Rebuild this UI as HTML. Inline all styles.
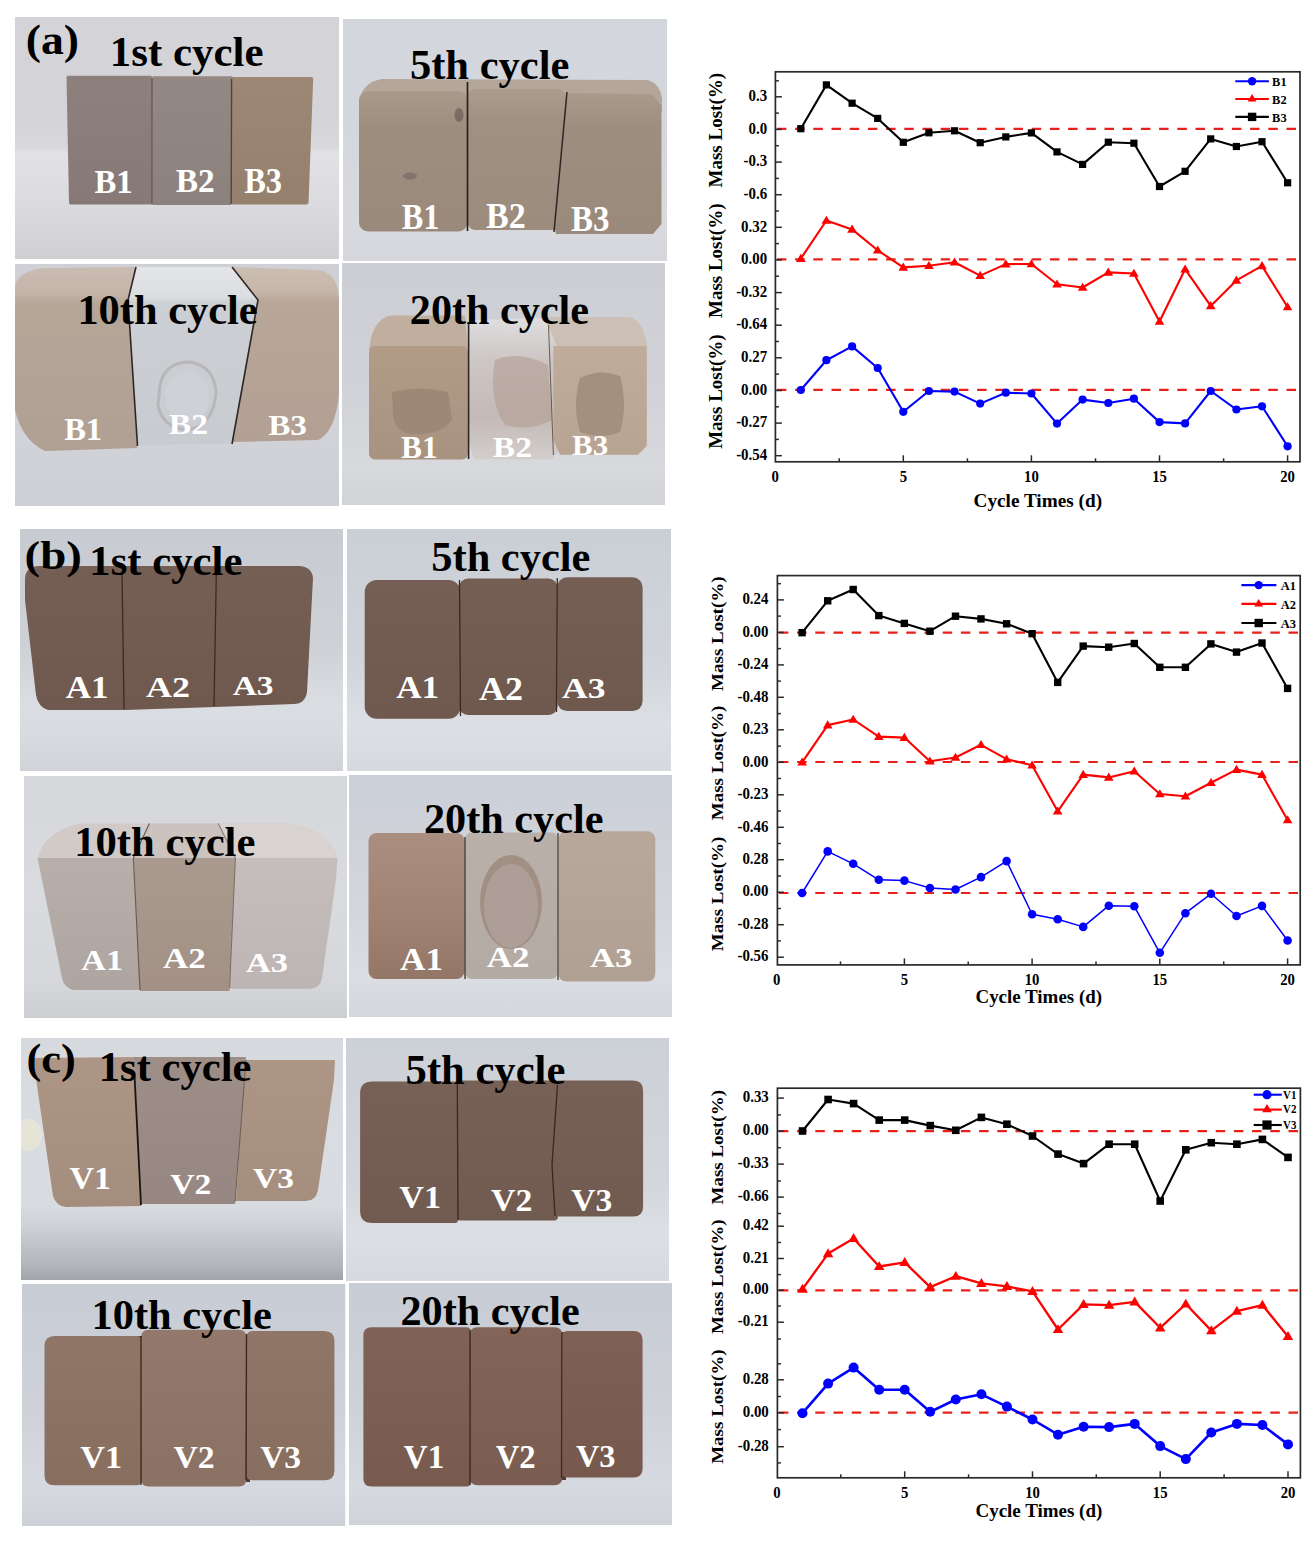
<!DOCTYPE html>
<html><head><meta charset="utf-8"><title>Figure</title>
<style>html,body{margin:0;padding:0;background:#fff;width:1314px;height:1544px;overflow:hidden}svg{display:block}</style></head>
<body><svg width="1314" height="1544" viewBox="0 0 1314 1544"><defs><linearGradient id="g1" x1="0" y1="0" x2="0" y2="1"><stop offset="0" stop-color="#d4d4d8"/><stop offset="0.4" stop-color="#d4d4d8"/><stop offset="0.54" stop-color="#d8d8dc"/><stop offset="0.56" stop-color="#e2e2e6"/><stop offset="0.75" stop-color="#dcdce0"/><stop offset="1" stop-color="#d0d0d4"/></linearGradient><linearGradient id="g2" x1="0" y1="0" x2="0" y2="1"><stop offset="0" stop-color="#8e807c"/><stop offset="1" stop-color="#877975"/></linearGradient><linearGradient id="g3" x1="0" y1="0" x2="0" y2="1"><stop offset="0" stop-color="#938883"/><stop offset="1" stop-color="#8c817c"/></linearGradient><linearGradient id="g4" x1="0" y1="0" x2="0" y2="1"><stop offset="0" stop-color="#9c8875"/><stop offset="1" stop-color="#94806d"/></linearGradient><clipPath id="c5"><rect x="15" y="17" width="324" height="242"/></clipPath><linearGradient id="g6" x1="0" y1="0" x2="0" y2="1"><stop offset="0" stop-color="#d3d6dd"/><stop offset="0.5" stop-color="#d4d7dd"/><stop offset="0.85" stop-color="#d8dadf"/><stop offset="1" stop-color="#d4d6db"/></linearGradient><linearGradient id="g7" x1="0" y1="0" x2="0" y2="1"><stop offset="0" stop-color="#aa9a8c"/><stop offset="0.25" stop-color="#9e8e80"/><stop offset="1" stop-color="#9a8a7c"/></linearGradient><linearGradient id="g8" x1="0" y1="0" x2="0" y2="1"><stop offset="0" stop-color="#ac9c8e"/><stop offset="0.25" stop-color="#a09082"/><stop offset="1" stop-color="#9c8c7e"/></linearGradient><linearGradient id="g9" x1="0" y1="0" x2="0" y2="1"><stop offset="0" stop-color="#aa9a8c"/><stop offset="0.25" stop-color="#9e8e80"/><stop offset="1" stop-color="#9a8a7c"/></linearGradient><clipPath id="c10"><rect x="343" y="19" width="324" height="242"/></clipPath><linearGradient id="g11" x1="0" y1="0" x2="0" y2="1"><stop offset="0" stop-color="#cfd0d5"/><stop offset="0.7" stop-color="#d2d3d8"/><stop offset="1" stop-color="#cecfd4"/></linearGradient><linearGradient id="g12" x1="0" y1="0" x2="0" y2="1"><stop offset="0" stop-color="#cabcb2"/><stop offset="0.14" stop-color="#c4b4aa"/><stop offset="0.2" stop-color="#b6a698"/><stop offset="1" stop-color="#b0a094"/></linearGradient><linearGradient id="g13" x1="0" y1="0" x2="0" y2="1"><stop offset="0" stop-color="#e4e5e8"/><stop offset="0.17" stop-color="#dcdde0"/><stop offset="0.2" stop-color="#cccfd4"/><stop offset="1" stop-color="#c8cbd0"/></linearGradient><linearGradient id="g14" x1="0" y1="0" x2="0" y2="1"><stop offset="0" stop-color="#ccbeb2"/><stop offset="0.14" stop-color="#c6b6aa"/><stop offset="0.2" stop-color="#b8a698"/><stop offset="1" stop-color="#b2a094"/></linearGradient><clipPath id="c15"><rect x="15" y="264" width="324" height="242"/></clipPath><linearGradient id="g16" x1="0" y1="0" x2="0" y2="1"><stop offset="0" stop-color="#cdced3"/><stop offset="0.5" stop-color="#d1d2d7"/><stop offset="0.85" stop-color="#d8d9dd"/><stop offset="1" stop-color="#d2d3d7"/></linearGradient><linearGradient id="g17" x1="0" y1="0" x2="0" y2="1"><stop offset="0" stop-color="#b29c88"/><stop offset="1" stop-color="#a89280"/></linearGradient><linearGradient id="g18" x1="0" y1="0" x2="0" y2="1"><stop offset="0" stop-color="#e0dee0"/><stop offset="0.3" stop-color="#ccc6c4"/><stop offset="0.7" stop-color="#c4bab6"/><stop offset="1" stop-color="#d2cecc"/></linearGradient><linearGradient id="g19" x1="0" y1="0" x2="0" y2="1"><stop offset="0" stop-color="#c0ac9a"/><stop offset="1" stop-color="#b8a492"/></linearGradient><clipPath id="c20"><rect x="342" y="263" width="323" height="242"/></clipPath><linearGradient id="g21" x1="0" y1="0" x2="0" y2="1"><stop offset="0" stop-color="#c8cbd1"/><stop offset="0.5" stop-color="#ced1d6"/><stop offset="0.72" stop-color="#dadde1"/><stop offset="0.85" stop-color="#d8dbdf"/><stop offset="1" stop-color="#d0d3d8"/></linearGradient><linearGradient id="g22" x1="0" y1="0" x2="0" y2="1"><stop offset="0" stop-color="#755e53"/><stop offset="1" stop-color="#6f584d"/></linearGradient><clipPath id="c23"><rect x="20" y="529" width="323" height="242"/></clipPath><linearGradient id="g24" x1="0" y1="0" x2="0" y2="1"><stop offset="0" stop-color="#cacfd6"/><stop offset="0.55" stop-color="#d1d5db"/><stop offset="0.8" stop-color="#dcdfe3"/><stop offset="1" stop-color="#d6d9dd"/></linearGradient><linearGradient id="g25" x1="0" y1="0" x2="0" y2="1"><stop offset="0" stop-color="#755e53"/><stop offset="1" stop-color="#6f584d"/></linearGradient><linearGradient id="g26" x1="0" y1="0" x2="0" y2="1"><stop offset="0" stop-color="#755e53"/><stop offset="1" stop-color="#6f584d"/></linearGradient><linearGradient id="g27" x1="0" y1="0" x2="0" y2="1"><stop offset="0" stop-color="#755e53"/><stop offset="1" stop-color="#6f584d"/></linearGradient><clipPath id="c28"><rect x="347" y="529" width="324" height="242"/></clipPath><linearGradient id="g29" x1="0" y1="0" x2="0" y2="1"><stop offset="0" stop-color="#d6d7db"/><stop offset="0.5" stop-color="#dadbdf"/><stop offset="0.85" stop-color="#d6d7db"/><stop offset="1" stop-color="#cdced2"/></linearGradient><linearGradient id="g30" x1="0" y1="0" x2="0" y2="1"><stop offset="0" stop-color="#b8aeaa"/><stop offset="1" stop-color="#aea4a0"/></linearGradient><linearGradient id="g31" x1="0" y1="0" x2="0" y2="1"><stop offset="0" stop-color="#aa998e"/><stop offset="1" stop-color="#a29184"/></linearGradient><linearGradient id="g32" x1="0" y1="0" x2="0" y2="1"><stop offset="0" stop-color="#c6bebd"/><stop offset="1" stop-color="#bdb5b3"/></linearGradient><clipPath id="c33"><rect x="24" y="776" width="323" height="242"/></clipPath><linearGradient id="g34" x1="0" y1="0" x2="0" y2="1"><stop offset="0" stop-color="#cbcfd7"/><stop offset="0.5" stop-color="#d2d5db"/><stop offset="0.85" stop-color="#dadde1"/><stop offset="1" stop-color="#d3d6db"/></linearGradient><linearGradient id="g35" x1="0" y1="0" x2="0" y2="1"><stop offset="0" stop-color="#aa8e80"/><stop offset="0.6" stop-color="#a08272"/><stop offset="1" stop-color="#947666"/></linearGradient><linearGradient id="g36" x1="0" y1="0" x2="0" y2="1"><stop offset="0" stop-color="#bab0aa"/><stop offset="1" stop-color="#b4aaa4"/></linearGradient><linearGradient id="g37" x1="0" y1="0" x2="0" y2="1"><stop offset="0" stop-color="#b8a89c"/><stop offset="1" stop-color="#b0a094"/></linearGradient><clipPath id="c38"><rect x="349" y="775" width="323" height="242"/></clipPath><linearGradient id="g39" x1="0" y1="0" x2="0" y2="1"><stop offset="0" stop-color="#d6d9de"/><stop offset="0.4" stop-color="#d9dce1"/><stop offset="0.69" stop-color="#d8dbe0"/><stop offset="0.77" stop-color="#d0d3d8"/><stop offset="0.855" stop-color="#c0c3c8"/><stop offset="0.94" stop-color="#b2b5ba"/><stop offset="1" stop-color="#a0a3a8"/></linearGradient><linearGradient id="g40" x1="0" y1="0" x2="0" y2="1"><stop offset="0" stop-color="#ad9686"/><stop offset="1" stop-color="#a58d7d"/></linearGradient><linearGradient id="g41" x1="0" y1="0" x2="0" y2="1"><stop offset="0" stop-color="#9e8e88"/><stop offset="1" stop-color="#978782"/></linearGradient><linearGradient id="g42" x1="0" y1="0" x2="0" y2="1"><stop offset="0" stop-color="#ae9686"/><stop offset="1" stop-color="#a68e7e"/></linearGradient><clipPath id="c43"><rect x="21" y="1038" width="322" height="242"/></clipPath><linearGradient id="g44" x1="0" y1="0" x2="0" y2="1"><stop offset="0" stop-color="#ccd0d7"/><stop offset="0.6" stop-color="#d3d6dc"/><stop offset="0.8" stop-color="#dcdfe3"/><stop offset="1" stop-color="#d6d9de"/></linearGradient><linearGradient id="g45" x1="0" y1="0" x2="0" y2="1"><stop offset="0" stop-color="#776055"/><stop offset="1" stop-color="#715a4f"/></linearGradient><linearGradient id="g46" x1="0" y1="0" x2="0" y2="1"><stop offset="0" stop-color="#776055"/><stop offset="1" stop-color="#715a4f"/></linearGradient><linearGradient id="g47" x1="0" y1="0" x2="0" y2="1"><stop offset="0" stop-color="#776055"/><stop offset="1" stop-color="#715a4f"/></linearGradient><clipPath id="c48"><rect x="346" y="1038" width="323" height="243"/></clipPath><linearGradient id="g49" x1="0" y1="0" x2="0" y2="1"><stop offset="0" stop-color="#c8ccd4"/><stop offset="0.5" stop-color="#ced1d8"/><stop offset="0.85" stop-color="#d6d9df"/><stop offset="1" stop-color="#cdd0d6"/></linearGradient><linearGradient id="g50" x1="0" y1="0" x2="0" y2="1"><stop offset="0" stop-color="#907667"/><stop offset="1" stop-color="#886e5f"/></linearGradient><linearGradient id="g51" x1="0" y1="0" x2="0" y2="1"><stop offset="0" stop-color="#92796b"/><stop offset="1" stop-color="#8a7163"/></linearGradient><linearGradient id="g52" x1="0" y1="0" x2="0" y2="1"><stop offset="0" stop-color="#907667"/><stop offset="1" stop-color="#886e5f"/></linearGradient><clipPath id="c53"><rect x="22" y="1284" width="323.5" height="242"/></clipPath><linearGradient id="g54" x1="0" y1="0" x2="0" y2="1"><stop offset="0" stop-color="#c8ccd4"/><stop offset="0.5" stop-color="#ced1d8"/><stop offset="0.85" stop-color="#d6d9df"/><stop offset="1" stop-color="#cfd2d8"/></linearGradient><linearGradient id="g55" x1="0" y1="0" x2="0" y2="1"><stop offset="0" stop-color="#806356"/><stop offset="1" stop-color="#785b4e"/></linearGradient><linearGradient id="g56" x1="0" y1="0" x2="0" y2="1"><stop offset="0" stop-color="#826558"/><stop offset="1" stop-color="#7a5d50"/></linearGradient><linearGradient id="g57" x1="0" y1="0" x2="0" y2="1"><stop offset="0" stop-color="#7e6154"/><stop offset="1" stop-color="#76594c"/></linearGradient><clipPath id="c58"><rect x="349" y="1283" width="323" height="242"/></clipPath></defs>
<g font-family="Liberation Serif" font-weight="bold"><g clip-path="url(#c5)">
<rect x="15.0" y="17.0" width="324.0" height="242.0" rx="0" fill="url(#g1)" />
<path d="M66.5,77.0 L67.5,75.7 L151.8,75.7 L151.8,204.4 L70.0,204.4 L69.0,203.0 Z" fill="url(#g2)" />
<path d="M152.3,76.2 L232.2,76.2 L231.0,204.9 L152.3,204.9 Z" fill="url(#g3)" />
<path d="M231.5,76.9 L312.0,76.9 L313.2,78.5 L308.5,203.0 L307.0,204.4 L231.5,204.4 Z" fill="url(#g4)" />
<line x1="152" y1="78" x2="152" y2="204" stroke="#5a4e4a" stroke-width="1.3" />
<line x1="231.6" y1="79" x2="231.2" y2="204" stroke="#4e423c" stroke-width="1.4" />
</g>
<text transform="translate(25.77,54.14) scale(0.4574,0.4122)" font-size="100" fill="#000000" >(a)</text>
<text transform="translate(109.77,66.40) scale(0.4293,0.4189)" font-size="100" fill="#000000" >1st cycle</text>
<text transform="translate(94.45,192.60) scale(0.3273,0.3424)" font-size="100" fill="#ffffff" >B1</text>
<text transform="translate(175.63,192.26) scale(0.3345,0.3424)" font-size="100" fill="#ffffff" >B2</text>
<text transform="translate(244.25,192.80) scale(0.3243,0.3507)" font-size="100" fill="#ffffff" >B3</text>
<g clip-path="url(#c10)">
<rect x="343.0" y="19.0" width="324.0" height="242.0" rx="0" fill="url(#g6)" />
<path d="M360,98 Q364,82 382,79 L648,80 Q660,84 662,98 L662,112 L360,112 Z" fill="#b4a699" />
<rect x="359.0" y="91.0" width="108.5" height="140.5" rx="9" fill="url(#g7)" />
<rect x="467.5" y="89.0" width="98.5" height="141.0" rx="8" fill="url(#g8)" />
<path d="M566.0,93.0 L652.0,94.0 L661.5,106.0 L661.5,224.0 L653.0,234.0 L556.0,234.0 L553.0,218.0 L559.0,150.0 Z" fill="url(#g9)" />
<line x1="467.5" y1="82" x2="467.5" y2="231" stroke="#2a2220" stroke-width="1.7" />
<line x1="567" y1="92" x2="554" y2="232" stroke="#2e2622" stroke-width="1.5" />
<ellipse cx="459" cy="115" rx="4.5" ry="7" fill="#4a4040"  opacity="0.45"/>
<ellipse cx="410" cy="176" rx="7" ry="3.5" fill="#5a5050"  opacity="0.4"/>
</g>
<text transform="translate(409.90,79.20) scale(0.4255,0.4189)" font-size="100" fill="#000000" >5th cycle</text>
<text transform="translate(401.75,228.80) scale(0.3227,0.3606)" font-size="100" fill="#ffffff" >B1</text>
<text transform="translate(486.12,228.44) scale(0.3400,0.3606)" font-size="100" fill="#ffffff" >B2</text>
<text transform="translate(571.04,230.79) scale(0.3297,0.3537)" font-size="100" fill="#ffffff" >B3</text>
<g clip-path="url(#c15)">
<rect x="15.0" y="264.0" width="324.0" height="242.0" rx="0" fill="url(#g11)" />
<path d="M15,285 Q20,270 45,268 L136,267 L128,300 L137,448 L45,451 Q22,440 15,410 Z" fill="url(#g12)" />
<path d="M136.0,267.0 L232.0,267.0 L258.0,300.0 L232.0,444.0 L137.5,445.0 L128.0,300.0 Z" fill="url(#g13)" />
<path d="M160,385 Q165,362 190,362 Q214,366 216,392 Q214,425 188,430 Q162,428 158,405 Z" fill="none"  stroke="#ada4a2" stroke-width="3" opacity="0.55"/>
<ellipse cx="187" cy="397" rx="22" ry="26" fill="#d2d4d8"  opacity="0.6"/>
<path d="M232,267 L320,270 Q339,275 339,300 L339,395 Q335,432 318,440 L232,442 L258,300 Z" fill="url(#g14)" />
<path d="M136,267 L128,300 L137.5,446" fill="none"  stroke="#2e2624" stroke-width="1.6"/>
<path d="M232,267 L258,300 L232,444" fill="none"  stroke="#2e2624" stroke-width="1.6"/>
</g>
<text transform="translate(77.40,324.46) scale(0.4244,0.4256)" font-size="100" fill="#000000" >10th cycle</text>
<text transform="translate(64.15,439.80) scale(0.3255,0.3091)" font-size="100" fill="#ffffff" >B1</text>
<text transform="translate(168.73,434.41) scale(0.3364,0.2894)" font-size="100" fill="#ffffff" >B2</text>
<text transform="translate(268.13,435.39) scale(0.3333,0.3045)" font-size="100" fill="#ffffff" >B3</text>
<g clip-path="url(#c20)">
<rect x="342.0" y="263.0" width="323.0" height="242.0" rx="0" fill="url(#g16)" />
<path d="M369,350 Q372,318 392,315.5 L465,315.5 L468,349 Z" fill="#c0ae9e" />
<rect x="369.0" y="346.0" width="99.0" height="113.6" rx="6" fill="url(#g17)" />
<path d="M392,392 Q420,385 448,392 L452,420 Q440,436 410,434 Q392,430 393,410 Z" fill="#9c8874" />
<path d="M470.0,320.0 L544.0,318.0 L560.0,345.0 L559.5,450.0 L552.0,459.6 L474.0,459.6 L468.6,440.0 Z" fill="url(#g18)" />
<path d="M495,360 Q520,350 548,365 L552,420 Q530,432 505,425 Q488,400 495,360 Z" fill="#b29c92"  opacity="0.6"/>
<path d="M544,317 L630,317 Q644,322 646.8,346 L557,346 Z" fill="#ccc0b6" />
<path d="M553.4,346 L646.8,346 L646.8,446 L638,454.7 L560,454.7 L553.4,440 Z" fill="url(#g19)" />
<path d="M580,378 Q600,368 620,376 Q628,405 620,432 Q600,440 580,432 Q572,405 580,378 Z" fill="#a3907f" />
<line x1="468.6" y1="322" x2="468.6" y2="459" stroke="#2e2624" stroke-width="1.6" />
<line x1="548.5" y1="325" x2="553.4" y2="455" stroke="#6a5a50" stroke-width="1.0" />
</g>
<text transform="translate(409.81,324.46) scale(0.4220,0.4256)" font-size="100" fill="#000000" >20th cycle</text>
<text transform="translate(401.07,458.20) scale(0.3136,0.3091)" font-size="100" fill="#ffffff" >B1</text>
<text transform="translate(492.83,456.61) scale(0.3364,0.2894)" font-size="100" fill="#ffffff" >B2</text>
<text transform="translate(571.98,455.03) scale(0.3099,0.2851)" font-size="100" fill="#ffffff" >B3</text>
<g clip-path="url(#c23)">
<rect x="20.0" y="529.0" width="323.0" height="242.0" rx="0" fill="url(#g21)" />
<path d="M25,578 Q26,566 40,566 L300,566 Q312,567 313,578 L307,692 Q305,704 294,704 L215,707 L125,710 L48,710 Q38,707 36,695 L25,600 Z" fill="url(#g22)" />
<line x1="122" y1="571" x2="124" y2="709" stroke="#3c2a22" stroke-width="1.3" />
<line x1="216.4" y1="568" x2="214" y2="706" stroke="#3c2a22" stroke-width="1.3" />
</g>
<text transform="translate(24.62,568.67) scale(0.4693,0.4111)" font-size="100" fill="#000000" >(b)</text>
<text transform="translate(89.28,575.27) scale(0.4276,0.4156)" font-size="100" fill="#000000" >1st cycle</text>
<text transform="translate(65.65,698.40) scale(0.3517,0.3091)" font-size="100" fill="#ffffff" >A1</text>
<text transform="translate(145.94,696.81) scale(0.3598,0.2851)" font-size="100" fill="#ffffff" >A2</text>
<text transform="translate(232.67,695.24) scale(0.3347,0.2809)" font-size="100" fill="#ffffff" >A3</text>
<g clip-path="url(#c28)">
<rect x="347.0" y="529.0" width="324.0" height="242.0" rx="0" fill="url(#g24)" />
<rect x="364.7" y="580.0" width="95.8" height="138.8" rx="12" fill="url(#g25)" />
<rect x="459.0" y="578.5" width="98.5" height="136.5" rx="9" fill="url(#g26)" />
<rect x="557.2" y="577.3" width="85.4" height="133.8" rx="10" fill="url(#g27)" />
<line x1="459.5" y1="580" x2="460.5" y2="716" stroke="#3a281f" stroke-width="1.3" />
<line x1="557.3" y1="578" x2="556.5" y2="712" stroke="#3a281f" stroke-width="1.3" />
</g>
<text transform="translate(431.30,570.56) scale(0.4245,0.4256)" font-size="100" fill="#000000" >5th cycle</text>
<text transform="translate(396.15,698.40) scale(0.3517,0.3091)" font-size="100" fill="#ffffff" >A1</text>
<text transform="translate(479.04,700.07) scale(0.3598,0.3343)" font-size="100" fill="#ffffff" >A2</text>
<text transform="translate(561.94,697.80) scale(0.3559,0.3000)" font-size="100" fill="#ffffff" >A3</text>
<g clip-path="url(#c33)">
<rect x="24.0" y="776.0" width="323.0" height="242.0" rx="0" fill="url(#g29)" />
<path d="M80.5,823.4 L289.5,823.4 Q330,830 337.4,858 L37.5,858 Q45,830 80.5,823.4 Z" fill="#d2cac7" />
<path d="M149.4,823.4 L218.2,823.4 L235.4,858 L133.4,858 Z" fill="#cdc3be" />
<path d="M218.2,823.4 L289.5,823.4 Q330,830 337.4,858 L235.4,858 Z" fill="#d8d2d1" />
<path d="M37.5,858 L134,858 L140,990 L74,990 Q64,988 62,978 Z" fill="url(#g30)" />
<path d="M134,858 L235.4,858 L229.6,991 L140,991 Z" fill="url(#g31)" />
<path d="M235.4,858 L337.4,858 L336,880 L322,978 Q320,988.7 310,988.7 L229.6,988.7 Z" fill="url(#g32)" />
<path d="M149.4,823.4 L133.4,858 L140,990" fill="none"  stroke="#6a5c56" stroke-width="1.2"/>
<path d="M218.2,823.4 L235.4,858 L229.6,988" fill="none"  stroke="#7a6c66" stroke-width="1.0"/>
</g>
<text transform="translate(74.19,856.01) scale(0.4266,0.4233)" font-size="100" fill="#000000" >10th cycle</text>
<text transform="translate(81.36,969.60) scale(0.3414,0.2894)" font-size="100" fill="#ffffff" >A1</text>
<text transform="translate(162.95,968.00) scale(0.3487,0.3030)" font-size="100" fill="#ffffff" >A2</text>
<text transform="translate(245.85,971.64) scale(0.3458,0.2824)" font-size="100" fill="#ffffff" >A3</text>
<g clip-path="url(#c38)">
<rect x="349.0" y="775.0" width="323.0" height="242.0" rx="0" fill="url(#g34)" />
<rect x="368.5" y="833.0" width="96.0" height="146.0" rx="8" fill="url(#g35)" />
<rect x="465.4" y="832.5" width="92.1" height="146.5" rx="6" fill="url(#g36)" />
<ellipse cx="511" cy="902" rx="31" ry="47" fill="#a28f84" />
<ellipse cx="511" cy="906" rx="27" ry="42" fill="#ad9f97" />
<rect x="558.5" y="831.2" width="96.8" height="150.4" rx="8" fill="url(#g37)" />
<line x1="465" y1="837" x2="465" y2="979" stroke="#3a2c26" stroke-width="1.3" />
<line x1="558" y1="833" x2="558" y2="980" stroke="#4a3c36" stroke-width="1.3" />
</g>
<text transform="translate(424.01,832.70) scale(0.4222,0.4144)" font-size="100" fill="#000000" >20th cycle</text>
<text transform="translate(400.05,970.20) scale(0.3517,0.3091)" font-size="100" fill="#ffffff" >A1</text>
<text transform="translate(486.65,967.30) scale(0.3496,0.3045)" font-size="100" fill="#ffffff" >A2</text>
<text transform="translate(589.95,967.04) scale(0.3458,0.2809)" font-size="100" fill="#ffffff" >A3</text>
<g clip-path="url(#c43)">
<rect x="21.0" y="1038.0" width="322.0" height="242.0" rx="0" fill="url(#g39)" />
<ellipse cx="28" cy="1135" rx="14" ry="16" fill="#e6e4d6" />
<path d="M33,1058 L138,1057 L141,1206 L66,1207 Q56,1206 53,1196 Z" fill="url(#g40)" />
<path d="M134.0,1057.0 L246.0,1057.0 L235.0,1204.0 L141.0,1204.0 Z" fill="url(#g41)" />
<path d="M245,1060 L335,1060 L334,1080 L318,1190 Q316,1201 306,1201 L236,1201 Z" fill="url(#g42)" />
<line x1="134.5" y1="1075" x2="141" y2="1205" stroke="#1c1410" stroke-width="1.8" />
<line x1="246" y1="1060" x2="235" y2="1202" stroke="#6a5a52" stroke-width="1.0" />
</g>
<text transform="translate(26.43,1073.27) scale(0.4437,0.4156)" font-size="100" fill="#000000" >(c)</text>
<text transform="translate(98.79,1081.26) scale(0.4261,0.4256)" font-size="100" fill="#000000" >1st cycle</text>
<text transform="translate(69.46,1189.16) scale(0.3405,0.3191)" font-size="100" fill="#ffffff" >V1</text>
<text transform="translate(170.16,1194.29) scale(0.3376,0.3045)" font-size="100" fill="#ffffff" >V2</text>
<text transform="translate(253.07,1187.89) scale(0.3347,0.3045)" font-size="100" fill="#ffffff" >V3</text>
<g clip-path="url(#c48)">
<rect x="346.0" y="1038.0" width="323.0" height="243.0" rx="0" fill="url(#g44)" />
<path d="M372.1,1081.5 L455.0,1081.5 Q458.0,1081.5 458.0,1084.5 L458.0,1220.0 Q458.0,1223.0 455.0,1223.0 L372.1,1223.0 Q360.1,1223.0 360.1,1211.0 L360.1,1093.5 Q360.1,1081.5 372.1,1081.5 Z" fill="url(#g45)" />
<path d="M460.0,1080.5 L555.0,1080.5 Q558.0,1080.5 558.0,1083.5 L558.0,1216.4 Q558.0,1220.4 554.0,1220.4 L460.0,1220.4 Q457.0,1220.4 457.0,1217.4 L457.0,1083.5 Q457.0,1080.5 460.0,1080.5 Z" fill="url(#g46)" />
<path d="M558.2,1080.5 L633.1,1080.5 Q643.1,1080.5 643.1,1090.5 L643.1,1206.6 Q643.1,1216.6 633.1,1216.6 L558.2,1216.6 Q555.2,1216.6 555.2,1213.6 L555.2,1083.5 Q555.2,1080.5 558.2,1080.5 Z" fill="url(#g47)" />
<line x1="457.3" y1="1084" x2="458" y2="1220" stroke="#3a281f" stroke-width="1.3" />
<path d="M557.5,1085 L552,1165 L555,1216" fill="none"  stroke="#3a281f" stroke-width="1.3"/>
</g>
<text transform="translate(405.60,1084.17) scale(0.4261,0.4156)" font-size="100" fill="#000000" >5th cycle</text>
<text transform="translate(399.26,1208.36) scale(0.3414,0.3191)" font-size="100" fill="#ffffff" >V1</text>
<text transform="translate(491.06,1210.85) scale(0.3385,0.3239)" font-size="100" fill="#ffffff" >V2</text>
<text transform="translate(571.36,1210.85) scale(0.3356,0.3239)" font-size="100" fill="#ffffff" >V3</text>
<g clip-path="url(#c53)">
<rect x="22.0" y="1284.0" width="323.5" height="242.0" rx="0" fill="url(#g49)" />
<rect x="136.0" y="1336.0" width="114.0" height="146.0" rx="0" fill="#4a3a32" />
<path d="M54.5,1336.0 L137.0,1336.0 Q141.0,1336.0 141.0,1340.0 L141.0,1481.3 Q141.0,1485.3 137.0,1485.3 L54.5,1485.3 Q44.5,1485.3 44.5,1475.3 L44.5,1346.0 Q44.5,1336.0 54.5,1336.0 Z" fill="url(#g50)" />
<path d="M149.0,1329.7 L238.5,1329.7 Q246.5,1329.7 246.5,1337.7 L246.5,1478.5 Q246.5,1486.5 238.5,1486.5 L149.0,1486.5 Q141.0,1486.5 141.0,1478.5 L141.0,1337.7 Q141.0,1329.7 149.0,1329.7 Z" fill="url(#g51)" />
<path d="M252.5,1331.0 L324.4,1331.0 Q334.4,1331.0 334.4,1341.0 L334.4,1470.2 Q334.4,1480.2 324.4,1480.2 L252.5,1480.2 Q246.5,1480.2 246.5,1474.2 L246.5,1337.0 Q246.5,1331.0 252.5,1331.0 Z" fill="url(#g52)" />
<line x1="141" y1="1336" x2="141" y2="1485" stroke="#3a2a22" stroke-width="1.4" />
<line x1="246.5" y1="1334" x2="246" y2="1480" stroke="#3a2a22" stroke-width="1.4" />
</g>
<text transform="translate(91.40,1328.67) scale(0.4249,0.4156)" font-size="100" fill="#000000" >10th cycle</text>
<text transform="translate(80.36,1468.06) scale(0.3414,0.3191)" font-size="100" fill="#ffffff" >V1</text>
<text transform="translate(173.46,1468.05) scale(0.3376,0.3239)" font-size="100" fill="#ffffff" >V2</text>
<text transform="translate(260.17,1468.05) scale(0.3347,0.3239)" font-size="100" fill="#ffffff" >V3</text>
<g clip-path="url(#c58)">
<rect x="349.0" y="1283.0" width="323.0" height="242.0" rx="0" fill="url(#g54)" />
<rect x="465.0" y="1332.0" width="101.0" height="148.0" rx="0" fill="#4a3a32" />
<path d="M371.4,1327.2 L466.5,1327.2 Q470.5,1327.2 470.5,1331.2 L470.5,1482.5 Q470.5,1486.5 466.5,1486.5 L371.4,1486.5 Q363.4,1486.5 363.4,1478.5 L363.4,1335.2 Q363.4,1327.2 371.4,1327.2 Z" fill="url(#g55)" />
<path d="M477.7,1327.2 L554.3,1327.2 Q562.3,1327.2 562.3,1335.2 L562.3,1477.3 Q562.3,1485.3 554.3,1485.3 L477.7,1485.3 Q469.7,1485.3 469.7,1477.3 L469.7,1335.2 Q469.7,1327.2 477.7,1327.2 Z" fill="url(#g56)" />
<path d="M567.5,1331.0 L633.6,1331.0 Q642.6,1331.0 642.6,1340.0 L642.6,1468.6 Q642.6,1477.6 633.6,1477.6 L567.5,1477.6 Q561.5,1477.6 561.5,1471.6 L561.5,1337.0 Q561.5,1331.0 567.5,1331.0 Z" fill="url(#g57)" />
<line x1="470" y1="1330" x2="470" y2="1485" stroke="#3a281f" stroke-width="1.4" />
<line x1="561.8" y1="1333" x2="561.5" y2="1478" stroke="#3a281f" stroke-width="1.2" />
</g>
<text transform="translate(400.51,1325.33) scale(0.4220,0.4178)" font-size="100" fill="#000000" >20th cycle</text>
<text transform="translate(403.87,1468.02) scale(0.3293,0.3382)" font-size="100" fill="#ffffff" >V1</text>
<text transform="translate(495.67,1468.01) scale(0.3265,0.3433)" font-size="100" fill="#ffffff" >V2</text>
<text transform="translate(575.98,1466.75) scale(0.3237,0.3239)" font-size="100" fill="#ffffff" >V3</text></g>
<g font-family="Liberation Serif" font-weight="bold"><line x1="776.9" y1="128.8" x2="1299.2" y2="128.8" stroke="#e8201c" stroke-width="2.2" stroke-dasharray="9.5 8.7"/>
<line x1="776.9" y1="259.4" x2="1299.2" y2="259.4" stroke="#e8201c" stroke-width="2.2" stroke-dasharray="9.5 8.7"/>
<line x1="776.9" y1="389.9" x2="1299.2" y2="389.9" stroke="#e8201c" stroke-width="2.2" stroke-dasharray="9.5 8.7"/>
<polyline points="800.8,128.7 826.4,84.9 852.1,103.2 877.7,118.4 903.3,142.3 928.9,132.8 954.5,130.8 980.2,142.7 1005.8,136.9 1031.4,132.9 1057.0,151.9 1082.6,164.4 1108.3,142.2 1133.9,143.2 1159.5,186.5 1185.1,171.3 1210.7,138.9 1236.4,146.5 1262.0,141.7 1287.6,182.8" fill="none" stroke="#000000" stroke-width="2.1" stroke-linejoin="round"/>
<rect x="797.2" y="125.1" width="7.2" height="7.2" fill="#000000"/>
<rect x="822.8" y="81.3" width="7.2" height="7.2" fill="#000000"/>
<rect x="848.5" y="99.6" width="7.2" height="7.2" fill="#000000"/>
<rect x="874.1" y="114.8" width="7.2" height="7.2" fill="#000000"/>
<rect x="899.7" y="138.7" width="7.2" height="7.2" fill="#000000"/>
<rect x="925.3" y="129.2" width="7.2" height="7.2" fill="#000000"/>
<rect x="950.9" y="127.2" width="7.2" height="7.2" fill="#000000"/>
<rect x="976.6" y="139.1" width="7.2" height="7.2" fill="#000000"/>
<rect x="1002.2" y="133.3" width="7.2" height="7.2" fill="#000000"/>
<rect x="1027.8" y="129.3" width="7.2" height="7.2" fill="#000000"/>
<rect x="1053.4" y="148.3" width="7.2" height="7.2" fill="#000000"/>
<rect x="1079.0" y="160.8" width="7.2" height="7.2" fill="#000000"/>
<rect x="1104.7" y="138.6" width="7.2" height="7.2" fill="#000000"/>
<rect x="1130.3" y="139.6" width="7.2" height="7.2" fill="#000000"/>
<rect x="1155.9" y="182.9" width="7.2" height="7.2" fill="#000000"/>
<rect x="1181.5" y="167.7" width="7.2" height="7.2" fill="#000000"/>
<rect x="1207.1" y="135.3" width="7.2" height="7.2" fill="#000000"/>
<rect x="1232.8" y="142.9" width="7.2" height="7.2" fill="#000000"/>
<rect x="1258.4" y="138.1" width="7.2" height="7.2" fill="#000000"/>
<rect x="1284.0" y="179.2" width="7.2" height="7.2" fill="#000000"/>
<polyline points="800.8,258.6 826.4,220.5 852.1,229.4 877.7,250.3 903.3,267.4 928.9,265.8 954.5,262.3 980.2,275.6 1005.8,264.1 1031.4,264.0 1057.0,284.3 1082.6,287.5 1108.3,272.4 1133.9,273.5 1159.5,321.5 1185.1,269.2 1210.7,305.9 1236.4,280.4 1262.0,265.9 1287.6,307.0" fill="none" stroke="#ff0000" stroke-width="2.1" stroke-linejoin="round"/>
<path d="M800.8,253.8L805.7,261.9L796.0,261.9Z" fill="#ff0000"/>
<path d="M826.4,215.7L831.3,223.8L821.6,223.8Z" fill="#ff0000"/>
<path d="M852.1,224.6L856.9,232.7L847.2,232.7Z" fill="#ff0000"/>
<path d="M877.7,245.5L882.5,253.6L872.9,253.6Z" fill="#ff0000"/>
<path d="M903.3,262.6L908.1,270.7L898.5,270.7Z" fill="#ff0000"/>
<path d="M928.9,261.0L933.8,269.1L924.1,269.1Z" fill="#ff0000"/>
<path d="M954.5,257.5L959.4,265.6L949.7,265.6Z" fill="#ff0000"/>
<path d="M980.2,270.8L985.0,278.9L975.3,278.9Z" fill="#ff0000"/>
<path d="M1005.8,259.3L1010.6,267.4L1001.0,267.4Z" fill="#ff0000"/>
<path d="M1031.4,259.2L1036.2,267.3L1026.6,267.3Z" fill="#ff0000"/>
<path d="M1057.0,279.5L1061.8,287.6L1052.2,287.6Z" fill="#ff0000"/>
<path d="M1082.6,282.7L1087.5,290.8L1077.8,290.8Z" fill="#ff0000"/>
<path d="M1108.3,267.6L1113.1,275.7L1103.4,275.7Z" fill="#ff0000"/>
<path d="M1133.9,268.7L1138.7,276.8L1129.1,276.8Z" fill="#ff0000"/>
<path d="M1159.5,316.7L1164.3,324.8L1154.7,324.8Z" fill="#ff0000"/>
<path d="M1185.1,264.4L1190.0,272.5L1180.3,272.5Z" fill="#ff0000"/>
<path d="M1210.7,301.1L1215.6,309.2L1205.9,309.2Z" fill="#ff0000"/>
<path d="M1236.4,275.6L1241.2,283.7L1231.5,283.7Z" fill="#ff0000"/>
<path d="M1262.0,261.1L1266.8,269.2L1257.2,269.2Z" fill="#ff0000"/>
<path d="M1287.6,302.2L1292.4,310.3L1282.8,310.3Z" fill="#ff0000"/>
<polyline points="800.8,390.0 826.4,360.2 852.1,346.4 877.7,368.0 903.3,411.8 928.9,391.0 954.5,391.6 980.2,403.6 1005.8,392.7 1031.4,393.5 1057.0,423.6 1082.6,399.6 1108.3,403.0 1133.9,398.7 1159.5,422.1 1185.1,423.4 1210.7,391.0 1236.4,409.5 1262.0,406.3 1287.6,446.3" fill="none" stroke="#0000ff" stroke-width="2.1" stroke-linejoin="round"/>
<circle cx="800.8" cy="390.0" r="4.1" fill="#0000ff"/>
<circle cx="826.4" cy="360.2" r="4.1" fill="#0000ff"/>
<circle cx="852.1" cy="346.4" r="4.1" fill="#0000ff"/>
<circle cx="877.7" cy="368.0" r="4.1" fill="#0000ff"/>
<circle cx="903.3" cy="411.8" r="4.1" fill="#0000ff"/>
<circle cx="928.9" cy="391.0" r="4.1" fill="#0000ff"/>
<circle cx="954.5" cy="391.6" r="4.1" fill="#0000ff"/>
<circle cx="980.2" cy="403.6" r="4.1" fill="#0000ff"/>
<circle cx="1005.8" cy="392.7" r="4.1" fill="#0000ff"/>
<circle cx="1031.4" cy="393.5" r="4.1" fill="#0000ff"/>
<circle cx="1057.0" cy="423.6" r="4.1" fill="#0000ff"/>
<circle cx="1082.6" cy="399.6" r="4.1" fill="#0000ff"/>
<circle cx="1108.3" cy="403.0" r="4.1" fill="#0000ff"/>
<circle cx="1133.9" cy="398.7" r="4.1" fill="#0000ff"/>
<circle cx="1159.5" cy="422.1" r="4.1" fill="#0000ff"/>
<circle cx="1185.1" cy="423.4" r="4.1" fill="#0000ff"/>
<circle cx="1210.7" cy="391.0" r="4.1" fill="#0000ff"/>
<circle cx="1236.4" cy="409.5" r="4.1" fill="#0000ff"/>
<circle cx="1262.0" cy="406.3" r="4.1" fill="#0000ff"/>
<circle cx="1287.6" cy="446.3" r="4.1" fill="#0000ff"/>
<rect x="775.4" y="71.8" width="524.6" height="390.0" fill="none" stroke="#2a2a2a" stroke-width="1.7"/>
<line x1="775.4" y1="96.8" x2="781.9" y2="96.8" stroke="#2a2a2a" stroke-width="1.5"/>
<text x="0" y="0" transform="translate(767.2,101.0) scale(0.91,1)" font-size="16.4" text-anchor="end">0.3</text>
<line x1="775.4" y1="129.4" x2="781.9" y2="129.4" stroke="#2a2a2a" stroke-width="1.5"/>
<text x="0" y="0" transform="translate(767.2,133.6) scale(0.91,1)" font-size="16.4" text-anchor="end">0.0</text>
<line x1="775.4" y1="162.1" x2="781.9" y2="162.1" stroke="#2a2a2a" stroke-width="1.5"/>
<text x="0" y="0" transform="translate(767.2,166.3) scale(0.91,1)" font-size="16.4" text-anchor="end">-0.3</text>
<line x1="775.4" y1="194.7" x2="781.9" y2="194.7" stroke="#2a2a2a" stroke-width="1.5"/>
<text x="0" y="0" transform="translate(767.2,198.9) scale(0.91,1)" font-size="16.4" text-anchor="end">-0.6</text>
<line x1="775.4" y1="227.3" x2="781.9" y2="227.3" stroke="#2a2a2a" stroke-width="1.5"/>
<text x="0" y="0" transform="translate(767.2,231.5) scale(0.91,1)" font-size="16.4" text-anchor="end">0.32</text>
<line x1="775.4" y1="259.9" x2="781.9" y2="259.9" stroke="#2a2a2a" stroke-width="1.5"/>
<text x="0" y="0" transform="translate(767.2,264.1) scale(0.91,1)" font-size="16.4" text-anchor="end">0.00</text>
<line x1="775.4" y1="292.6" x2="781.9" y2="292.6" stroke="#2a2a2a" stroke-width="1.5"/>
<text x="0" y="0" transform="translate(767.2,296.8) scale(0.91,1)" font-size="16.4" text-anchor="end">-0.32</text>
<line x1="775.4" y1="325.2" x2="781.9" y2="325.2" stroke="#2a2a2a" stroke-width="1.5"/>
<text x="0" y="0" transform="translate(767.2,329.4) scale(0.91,1)" font-size="16.4" text-anchor="end">-0.64</text>
<line x1="775.4" y1="357.8" x2="781.9" y2="357.8" stroke="#2a2a2a" stroke-width="1.5"/>
<text x="0" y="0" transform="translate(767.2,362.0) scale(0.91,1)" font-size="16.4" text-anchor="end">0.27</text>
<line x1="775.4" y1="390.5" x2="781.9" y2="390.5" stroke="#2a2a2a" stroke-width="1.5"/>
<text x="0" y="0" transform="translate(767.2,394.7) scale(0.91,1)" font-size="16.4" text-anchor="end">0.00</text>
<line x1="775.4" y1="423.1" x2="781.9" y2="423.1" stroke="#2a2a2a" stroke-width="1.5"/>
<text x="0" y="0" transform="translate(767.2,427.3) scale(0.91,1)" font-size="16.4" text-anchor="end">-0.27</text>
<line x1="775.4" y1="455.7" x2="781.9" y2="455.7" stroke="#2a2a2a" stroke-width="1.5"/>
<text x="0" y="0" transform="translate(767.2,459.9) scale(0.91,1)" font-size="16.4" text-anchor="end">-0.54</text>
<line x1="775.4" y1="80.8" x2="778.9" y2="80.8" stroke="#2a2a2a" stroke-width="1.5"/>
<line x1="775.4" y1="113.1" x2="778.9" y2="113.1" stroke="#2a2a2a" stroke-width="1.5"/>
<line x1="775.4" y1="145.7" x2="778.9" y2="145.7" stroke="#2a2a2a" stroke-width="1.5"/>
<line x1="775.4" y1="178.4" x2="778.9" y2="178.4" stroke="#2a2a2a" stroke-width="1.5"/>
<line x1="775.4" y1="211.0" x2="778.9" y2="211.0" stroke="#2a2a2a" stroke-width="1.5"/>
<line x1="775.4" y1="243.6" x2="778.9" y2="243.6" stroke="#2a2a2a" stroke-width="1.5"/>
<line x1="775.4" y1="276.2" x2="778.9" y2="276.2" stroke="#2a2a2a" stroke-width="1.5"/>
<line x1="775.4" y1="308.9" x2="778.9" y2="308.9" stroke="#2a2a2a" stroke-width="1.5"/>
<line x1="775.4" y1="341.5" x2="778.9" y2="341.5" stroke="#2a2a2a" stroke-width="1.5"/>
<line x1="775.4" y1="374.1" x2="778.9" y2="374.1" stroke="#2a2a2a" stroke-width="1.5"/>
<line x1="775.4" y1="406.8" x2="778.9" y2="406.8" stroke="#2a2a2a" stroke-width="1.5"/>
<line x1="775.4" y1="439.4" x2="778.9" y2="439.4" stroke="#2a2a2a" stroke-width="1.5"/>
<text x="0" y="0" transform="translate(775.2,482.0) scale(0.91,1)" font-size="16.2" text-anchor="middle">0</text>
<line x1="839.2" y1="461.8" x2="839.2" y2="458.3" stroke="#2a2a2a" stroke-width="1.5"/>
<line x1="903.3" y1="461.8" x2="903.3" y2="455.3" stroke="#2a2a2a" stroke-width="1.5"/>
<text x="0" y="0" transform="translate(903.3,482.0) scale(0.91,1)" font-size="16.2" text-anchor="middle">5</text>
<line x1="967.4" y1="461.8" x2="967.4" y2="458.3" stroke="#2a2a2a" stroke-width="1.5"/>
<line x1="1031.4" y1="461.8" x2="1031.4" y2="455.3" stroke="#2a2a2a" stroke-width="1.5"/>
<text x="0" y="0" transform="translate(1031.4,482.0) scale(0.91,1)" font-size="16.2" text-anchor="middle">10</text>
<line x1="1095.5" y1="461.8" x2="1095.5" y2="458.3" stroke="#2a2a2a" stroke-width="1.5"/>
<line x1="1159.5" y1="461.8" x2="1159.5" y2="455.3" stroke="#2a2a2a" stroke-width="1.5"/>
<text x="0" y="0" transform="translate(1159.5,482.0) scale(0.91,1)" font-size="16.2" text-anchor="middle">15</text>
<line x1="1223.6" y1="461.8" x2="1223.6" y2="458.3" stroke="#2a2a2a" stroke-width="1.5"/>
<line x1="1287.6" y1="461.8" x2="1287.6" y2="455.3" stroke="#2a2a2a" stroke-width="1.5"/>
<text x="0" y="0" transform="translate(1287.6,482.0) scale(0.91,1)" font-size="16.2" text-anchor="middle">20</text>
<text transform="translate(973.54,506.61) scale(0.1923,0.1900)" font-size="100" fill="#000" >Cycle Times (d)</text>
<text transform="translate(722.27,187.48) rotate(-90) scale(0.1901,0.1822)" font-size="100">Mass Lost(%)</text>
<text transform="translate(722.27,318.03) rotate(-90) scale(0.1901,0.1822)" font-size="100">Mass Lost(%)</text>
<text transform="translate(722.27,448.83) rotate(-90) scale(0.1901,0.1822)" font-size="100">Mass Lost(%)</text>
<line x1="1235.3" y1="81.2" x2="1268.9" y2="81.2" stroke="#0000ff" stroke-width="2.1"/>
<circle cx="1252.1" cy="81.2" r="4.2" fill="#0000ff"/>
<text x="0" y="0" transform="translate(1272.1,85.8) scale(0.92,1)" font-size="13.5">B1</text>
<line x1="1235.3" y1="99.0" x2="1268.9" y2="99.0" stroke="#ff0000" stroke-width="2.1"/>
<path d="M1252.1,94.0L1256.5,101.5L1247.7,101.5Z" fill="#ff0000"/>
<text x="0" y="0" transform="translate(1272.1,103.6) scale(0.92,1)" font-size="13.5">B2</text>
<line x1="1235.3" y1="116.9" x2="1268.9" y2="116.9" stroke="#000000" stroke-width="2.1"/>
<rect x="1247.9" y="112.7" width="8.4" height="8.4" fill="#000000"/>
<text x="0" y="0" transform="translate(1272.1,121.5) scale(0.92,1)" font-size="13.5">B3</text><line x1="778.9" y1="632.6" x2="1299.4" y2="632.6" stroke="#e8201c" stroke-width="2.2" stroke-dasharray="9.5 8.7"/>
<line x1="778.9" y1="762.0" x2="1299.4" y2="762.0" stroke="#e8201c" stroke-width="2.2" stroke-dasharray="9.5 8.7"/>
<line x1="778.9" y1="893.0" x2="1299.4" y2="893.0" stroke="#e8201c" stroke-width="2.2" stroke-dasharray="9.5 8.7"/>
<polyline points="802.1,632.7 827.7,600.8 853.2,589.5 878.8,615.6 904.4,623.4 929.9,631.2 955.5,616.2 981.0,618.9 1006.6,623.8 1032.1,633.7 1057.7,682.4 1083.2,646.1 1108.8,647.2 1134.3,643.5 1159.8,667.3 1185.4,667.3 1211.0,643.9 1236.5,652.1 1262.0,643.0 1287.6,688.4" fill="none" stroke="#000000" stroke-width="2.1" stroke-linejoin="round"/>
<rect x="798.4" y="629.0" width="7.4" height="7.4" fill="#000000"/>
<rect x="824.0" y="597.1" width="7.4" height="7.4" fill="#000000"/>
<rect x="849.5" y="585.8" width="7.4" height="7.4" fill="#000000"/>
<rect x="875.1" y="611.9" width="7.4" height="7.4" fill="#000000"/>
<rect x="900.6" y="619.7" width="7.4" height="7.4" fill="#000000"/>
<rect x="926.2" y="627.5" width="7.4" height="7.4" fill="#000000"/>
<rect x="951.8" y="612.5" width="7.4" height="7.4" fill="#000000"/>
<rect x="977.3" y="615.2" width="7.4" height="7.4" fill="#000000"/>
<rect x="1002.9" y="620.1" width="7.4" height="7.4" fill="#000000"/>
<rect x="1028.4" y="630.0" width="7.4" height="7.4" fill="#000000"/>
<rect x="1054.0" y="678.7" width="7.4" height="7.4" fill="#000000"/>
<rect x="1079.5" y="642.4" width="7.4" height="7.4" fill="#000000"/>
<rect x="1105.0" y="643.5" width="7.4" height="7.4" fill="#000000"/>
<rect x="1130.6" y="639.8" width="7.4" height="7.4" fill="#000000"/>
<rect x="1156.1" y="663.6" width="7.4" height="7.4" fill="#000000"/>
<rect x="1181.7" y="663.6" width="7.4" height="7.4" fill="#000000"/>
<rect x="1207.2" y="640.2" width="7.4" height="7.4" fill="#000000"/>
<rect x="1232.8" y="648.4" width="7.4" height="7.4" fill="#000000"/>
<rect x="1258.3" y="639.3" width="7.4" height="7.4" fill="#000000"/>
<rect x="1283.9" y="684.7" width="7.4" height="7.4" fill="#000000"/>
<polyline points="802.1,762.3 827.7,725.1 853.2,719.5 878.8,736.6 904.4,737.6 929.9,761.2 955.5,757.5 981.0,744.8 1006.6,759.2 1032.1,765.3 1057.7,811.3 1083.2,774.6 1108.8,777.4 1134.3,771.3 1159.8,794.0 1185.4,796.2 1211.0,782.8 1236.5,769.6 1262.0,774.6 1287.6,820.0" fill="none" stroke="#ff0000" stroke-width="2.1" stroke-linejoin="round"/>
<path d="M802.1,757.5L807.0,765.6L797.3,765.6Z" fill="#ff0000"/>
<path d="M827.7,720.3L832.5,728.4L822.9,728.4Z" fill="#ff0000"/>
<path d="M853.2,714.7L858.1,722.8L848.4,722.8Z" fill="#ff0000"/>
<path d="M878.8,731.8L883.6,739.9L874.0,739.9Z" fill="#ff0000"/>
<path d="M904.4,732.8L909.2,740.9L899.5,740.9Z" fill="#ff0000"/>
<path d="M929.9,756.4L934.7,764.5L925.1,764.5Z" fill="#ff0000"/>
<path d="M955.5,752.7L960.3,760.8L950.6,760.8Z" fill="#ff0000"/>
<path d="M981.0,740.0L985.8,748.1L976.2,748.1Z" fill="#ff0000"/>
<path d="M1006.6,754.4L1011.4,762.5L1001.7,762.5Z" fill="#ff0000"/>
<path d="M1032.1,760.5L1036.9,768.6L1027.3,768.6Z" fill="#ff0000"/>
<path d="M1057.7,806.5L1062.5,814.6L1052.8,814.6Z" fill="#ff0000"/>
<path d="M1083.2,769.8L1088.0,777.9L1078.4,777.9Z" fill="#ff0000"/>
<path d="M1108.8,772.6L1113.6,780.7L1103.9,780.7Z" fill="#ff0000"/>
<path d="M1134.3,766.5L1139.1,774.6L1129.5,774.6Z" fill="#ff0000"/>
<path d="M1159.8,789.2L1164.7,797.3L1155.0,797.3Z" fill="#ff0000"/>
<path d="M1185.4,791.4L1190.2,799.5L1180.6,799.5Z" fill="#ff0000"/>
<path d="M1211.0,778.0L1215.8,786.1L1206.1,786.1Z" fill="#ff0000"/>
<path d="M1236.5,764.8L1241.3,772.9L1231.7,772.9Z" fill="#ff0000"/>
<path d="M1262.0,769.8L1266.9,777.9L1257.2,777.9Z" fill="#ff0000"/>
<path d="M1287.6,815.2L1292.4,823.3L1282.8,823.3Z" fill="#ff0000"/>
<polyline points="802.1,893.0 827.7,851.4 853.2,863.8 878.8,879.8 904.4,880.6 929.9,888.0 955.5,889.5 981.0,877.1 1006.6,861.1 1032.1,914.3 1057.7,919.3 1083.2,926.9 1108.8,905.7 1134.3,906.3 1159.8,952.8 1185.4,913.2 1211.0,893.8 1236.5,916.0 1262.0,905.9 1287.6,940.5" fill="none" stroke="#0000ff" stroke-width="1.5" stroke-linejoin="round"/>
<circle cx="802.1" cy="893.0" r="4.3" fill="#0000ff"/>
<circle cx="827.7" cy="851.4" r="4.3" fill="#0000ff"/>
<circle cx="853.2" cy="863.8" r="4.3" fill="#0000ff"/>
<circle cx="878.8" cy="879.8" r="4.3" fill="#0000ff"/>
<circle cx="904.4" cy="880.6" r="4.3" fill="#0000ff"/>
<circle cx="929.9" cy="888.0" r="4.3" fill="#0000ff"/>
<circle cx="955.5" cy="889.5" r="4.3" fill="#0000ff"/>
<circle cx="981.0" cy="877.1" r="4.3" fill="#0000ff"/>
<circle cx="1006.6" cy="861.1" r="4.3" fill="#0000ff"/>
<circle cx="1032.1" cy="914.3" r="4.3" fill="#0000ff"/>
<circle cx="1057.7" cy="919.3" r="4.3" fill="#0000ff"/>
<circle cx="1083.2" cy="926.9" r="4.3" fill="#0000ff"/>
<circle cx="1108.8" cy="905.7" r="4.3" fill="#0000ff"/>
<circle cx="1134.3" cy="906.3" r="4.3" fill="#0000ff"/>
<circle cx="1159.8" cy="952.8" r="4.3" fill="#0000ff"/>
<circle cx="1185.4" cy="913.2" r="4.3" fill="#0000ff"/>
<circle cx="1211.0" cy="893.8" r="4.3" fill="#0000ff"/>
<circle cx="1236.5" cy="916.0" r="4.3" fill="#0000ff"/>
<circle cx="1262.0" cy="905.9" r="4.3" fill="#0000ff"/>
<circle cx="1287.6" cy="940.5" r="4.3" fill="#0000ff"/>
<rect x="777.4" y="575.6" width="522.8" height="389.3" fill="none" stroke="#2a2a2a" stroke-width="1.7"/>
<line x1="777.4" y1="599.9" x2="783.9" y2="599.9" stroke="#2a2a2a" stroke-width="1.5"/>
<text x="0" y="0" transform="translate(768.5,604.1) scale(0.91,1)" font-size="16.4" text-anchor="end">0.24</text>
<line x1="777.4" y1="632.4" x2="783.9" y2="632.4" stroke="#2a2a2a" stroke-width="1.5"/>
<text x="0" y="0" transform="translate(768.5,636.6) scale(0.91,1)" font-size="16.4" text-anchor="end">0.00</text>
<line x1="777.4" y1="664.9" x2="783.9" y2="664.9" stroke="#2a2a2a" stroke-width="1.5"/>
<text x="0" y="0" transform="translate(768.5,669.1) scale(0.91,1)" font-size="16.4" text-anchor="end">-0.24</text>
<line x1="777.4" y1="697.3" x2="783.9" y2="697.3" stroke="#2a2a2a" stroke-width="1.5"/>
<text x="0" y="0" transform="translate(768.5,701.5) scale(0.91,1)" font-size="16.4" text-anchor="end">-0.48</text>
<line x1="777.4" y1="729.8" x2="783.9" y2="729.8" stroke="#2a2a2a" stroke-width="1.5"/>
<text x="0" y="0" transform="translate(768.5,734.0) scale(0.91,1)" font-size="16.4" text-anchor="end">0.23</text>
<line x1="777.4" y1="762.3" x2="783.9" y2="762.3" stroke="#2a2a2a" stroke-width="1.5"/>
<text x="0" y="0" transform="translate(768.5,766.5) scale(0.91,1)" font-size="16.4" text-anchor="end">0.00</text>
<line x1="777.4" y1="794.8" x2="783.9" y2="794.8" stroke="#2a2a2a" stroke-width="1.5"/>
<text x="0" y="0" transform="translate(768.5,799.0) scale(0.91,1)" font-size="16.4" text-anchor="end">-0.23</text>
<line x1="777.4" y1="827.3" x2="783.9" y2="827.3" stroke="#2a2a2a" stroke-width="1.5"/>
<text x="0" y="0" transform="translate(768.5,831.5) scale(0.91,1)" font-size="16.4" text-anchor="end">-0.46</text>
<line x1="777.4" y1="859.7" x2="783.9" y2="859.7" stroke="#2a2a2a" stroke-width="1.5"/>
<text x="0" y="0" transform="translate(768.5,863.9) scale(0.91,1)" font-size="16.4" text-anchor="end">0.28</text>
<line x1="777.4" y1="892.2" x2="783.9" y2="892.2" stroke="#2a2a2a" stroke-width="1.5"/>
<text x="0" y="0" transform="translate(768.5,896.4) scale(0.91,1)" font-size="16.4" text-anchor="end">0.00</text>
<line x1="777.4" y1="924.7" x2="783.9" y2="924.7" stroke="#2a2a2a" stroke-width="1.5"/>
<text x="0" y="0" transform="translate(768.5,928.9) scale(0.91,1)" font-size="16.4" text-anchor="end">-0.28</text>
<line x1="777.4" y1="957.2" x2="783.9" y2="957.2" stroke="#2a2a2a" stroke-width="1.5"/>
<text x="0" y="0" transform="translate(768.5,961.4) scale(0.91,1)" font-size="16.4" text-anchor="end">-0.56</text>
<line x1="777.4" y1="583.7" x2="780.9" y2="583.7" stroke="#2a2a2a" stroke-width="1.5"/>
<line x1="777.4" y1="616.1" x2="780.9" y2="616.1" stroke="#2a2a2a" stroke-width="1.5"/>
<line x1="777.4" y1="648.6" x2="780.9" y2="648.6" stroke="#2a2a2a" stroke-width="1.5"/>
<line x1="777.4" y1="681.1" x2="780.9" y2="681.1" stroke="#2a2a2a" stroke-width="1.5"/>
<line x1="777.4" y1="713.6" x2="780.9" y2="713.6" stroke="#2a2a2a" stroke-width="1.5"/>
<line x1="777.4" y1="746.1" x2="780.9" y2="746.1" stroke="#2a2a2a" stroke-width="1.5"/>
<line x1="777.4" y1="778.5" x2="780.9" y2="778.5" stroke="#2a2a2a" stroke-width="1.5"/>
<line x1="777.4" y1="811.0" x2="780.9" y2="811.0" stroke="#2a2a2a" stroke-width="1.5"/>
<line x1="777.4" y1="843.5" x2="780.9" y2="843.5" stroke="#2a2a2a" stroke-width="1.5"/>
<line x1="777.4" y1="876.0" x2="780.9" y2="876.0" stroke="#2a2a2a" stroke-width="1.5"/>
<line x1="777.4" y1="908.5" x2="780.9" y2="908.5" stroke="#2a2a2a" stroke-width="1.5"/>
<line x1="777.4" y1="940.9" x2="780.9" y2="940.9" stroke="#2a2a2a" stroke-width="1.5"/>
<text x="0" y="0" transform="translate(776.6,985.1) scale(0.91,1)" font-size="16.2" text-anchor="middle">0</text>
<line x1="840.5" y1="964.9" x2="840.5" y2="961.4" stroke="#2a2a2a" stroke-width="1.5"/>
<line x1="904.4" y1="964.9" x2="904.4" y2="958.4" stroke="#2a2a2a" stroke-width="1.5"/>
<text x="0" y="0" transform="translate(904.4,985.1) scale(0.91,1)" font-size="16.2" text-anchor="middle">5</text>
<line x1="968.2" y1="964.9" x2="968.2" y2="961.4" stroke="#2a2a2a" stroke-width="1.5"/>
<line x1="1032.1" y1="964.9" x2="1032.1" y2="958.4" stroke="#2a2a2a" stroke-width="1.5"/>
<text x="0" y="0" transform="translate(1032.1,985.1) scale(0.91,1)" font-size="16.2" text-anchor="middle">10</text>
<line x1="1096.0" y1="964.9" x2="1096.0" y2="961.4" stroke="#2a2a2a" stroke-width="1.5"/>
<line x1="1159.8" y1="964.9" x2="1159.8" y2="958.4" stroke="#2a2a2a" stroke-width="1.5"/>
<text x="0" y="0" transform="translate(1159.8,985.1) scale(0.91,1)" font-size="16.2" text-anchor="middle">15</text>
<line x1="1223.7" y1="964.9" x2="1223.7" y2="961.4" stroke="#2a2a2a" stroke-width="1.5"/>
<line x1="1287.6" y1="964.9" x2="1287.6" y2="958.4" stroke="#2a2a2a" stroke-width="1.5"/>
<text x="0" y="0" transform="translate(1287.6,985.1) scale(0.91,1)" font-size="16.2" text-anchor="middle">20</text>
<text transform="translate(975.45,1002.71) scale(0.1894,0.1900)" font-size="100" fill="#000" >Cycle Times (d)</text>
<text transform="translate(722.96,690.93) rotate(-90) scale(0.1901,0.1733)" font-size="100">Mass Lost(%)</text>
<text transform="translate(722.96,820.23) rotate(-90) scale(0.1901,0.1733)" font-size="100">Mass Lost(%)</text>
<text transform="translate(722.96,951.13) rotate(-90) scale(0.1901,0.1733)" font-size="100">Mass Lost(%)</text>
<line x1="1241.4" y1="585.1" x2="1276.4" y2="585.1" stroke="#0000ff" stroke-width="2.1"/>
<circle cx="1258.7" cy="585.1" r="4.2" fill="#0000ff"/>
<text x="0" y="0" transform="translate(1280.7,589.7) scale(0.92,1)" font-size="13.5">A1</text>
<line x1="1241.4" y1="603.9" x2="1276.4" y2="603.9" stroke="#ff0000" stroke-width="2.1"/>
<path d="M1258.7,598.9L1263.1,606.4L1254.3,606.4Z" fill="#ff0000"/>
<text x="0" y="0" transform="translate(1280.7,608.5) scale(0.92,1)" font-size="13.5">A2</text>
<line x1="1241.4" y1="623.0" x2="1276.4" y2="623.0" stroke="#000000" stroke-width="2.1"/>
<rect x="1254.5" y="618.8" width="8.4" height="8.4" fill="#000000"/>
<text x="0" y="0" transform="translate(1280.7,627.6) scale(0.92,1)" font-size="13.5">A3</text><line x1="778.9" y1="1131.1" x2="1299.6" y2="1131.1" stroke="#e8201c" stroke-width="2.2" stroke-dasharray="9.5 8.7"/>
<line x1="778.9" y1="1290.3" x2="1299.6" y2="1290.3" stroke="#e8201c" stroke-width="2.2" stroke-dasharray="9.5 8.7"/>
<line x1="778.9" y1="1412.7" x2="1299.6" y2="1412.7" stroke="#e8201c" stroke-width="2.2" stroke-dasharray="9.5 8.7"/>
<polyline points="802.5,1131.0 828.1,1099.5 853.6,1103.6 879.2,1120.1 904.7,1120.1 930.2,1125.6 955.8,1130.3 981.4,1117.4 1006.9,1124.2 1032.5,1136.0 1058.0,1154.1 1083.6,1163.6 1109.1,1144.2 1134.7,1144.2 1160.2,1201.0 1185.8,1149.8 1211.3,1142.7 1236.9,1144.2 1262.4,1139.4 1288.0,1157.4" fill="none" stroke="#000000" stroke-width="2.1" stroke-linejoin="round"/>
<rect x="798.7" y="1127.2" width="7.6" height="7.6" fill="#000000"/>
<rect x="824.3" y="1095.7" width="7.6" height="7.6" fill="#000000"/>
<rect x="849.8" y="1099.8" width="7.6" height="7.6" fill="#000000"/>
<rect x="875.4" y="1116.3" width="7.6" height="7.6" fill="#000000"/>
<rect x="900.9" y="1116.3" width="7.6" height="7.6" fill="#000000"/>
<rect x="926.5" y="1121.8" width="7.6" height="7.6" fill="#000000"/>
<rect x="952.0" y="1126.5" width="7.6" height="7.6" fill="#000000"/>
<rect x="977.6" y="1113.6" width="7.6" height="7.6" fill="#000000"/>
<rect x="1003.1" y="1120.4" width="7.6" height="7.6" fill="#000000"/>
<rect x="1028.7" y="1132.2" width="7.6" height="7.6" fill="#000000"/>
<rect x="1054.2" y="1150.3" width="7.6" height="7.6" fill="#000000"/>
<rect x="1079.8" y="1159.8" width="7.6" height="7.6" fill="#000000"/>
<rect x="1105.3" y="1140.4" width="7.6" height="7.6" fill="#000000"/>
<rect x="1130.9" y="1140.4" width="7.6" height="7.6" fill="#000000"/>
<rect x="1156.4" y="1197.2" width="7.6" height="7.6" fill="#000000"/>
<rect x="1182.0" y="1146.0" width="7.6" height="7.6" fill="#000000"/>
<rect x="1207.5" y="1138.9" width="7.6" height="7.6" fill="#000000"/>
<rect x="1233.1" y="1140.4" width="7.6" height="7.6" fill="#000000"/>
<rect x="1258.6" y="1135.6" width="7.6" height="7.6" fill="#000000"/>
<rect x="1284.2" y="1153.6" width="7.6" height="7.6" fill="#000000"/>
<polyline points="802.5,1289.1 828.1,1253.6 853.6,1238.4 879.2,1266.5 904.7,1262.4 930.2,1287.1 955.8,1276.2 981.4,1283.4 1006.9,1286.4 1032.5,1291.4 1058.0,1329.5 1083.6,1304.4 1109.1,1305.1 1134.7,1301.9 1160.2,1327.8 1185.8,1304.0 1211.3,1330.6 1236.9,1311.1 1262.4,1305.1 1288.0,1336.4" fill="none" stroke="#ff0000" stroke-width="2.3" stroke-linejoin="round"/>
<path d="M802.5,1283.8L807.8,1292.7L797.2,1292.7Z" fill="#ff0000"/>
<path d="M828.1,1248.3L833.3,1257.2L822.8,1257.2Z" fill="#ff0000"/>
<path d="M853.6,1233.1L858.9,1242.0L848.4,1242.0Z" fill="#ff0000"/>
<path d="M879.2,1261.2L884.4,1270.1L873.9,1270.1Z" fill="#ff0000"/>
<path d="M904.7,1257.1L910.0,1266.0L899.5,1266.0Z" fill="#ff0000"/>
<path d="M930.2,1281.8L935.5,1290.7L925.0,1290.7Z" fill="#ff0000"/>
<path d="M955.8,1270.9L961.1,1279.8L950.6,1279.8Z" fill="#ff0000"/>
<path d="M981.4,1278.1L986.6,1287.0L976.1,1287.0Z" fill="#ff0000"/>
<path d="M1006.9,1281.1L1012.2,1290.0L1001.7,1290.0Z" fill="#ff0000"/>
<path d="M1032.5,1286.1L1037.7,1295.0L1027.2,1295.0Z" fill="#ff0000"/>
<path d="M1058.0,1324.2L1063.2,1333.1L1052.8,1333.1Z" fill="#ff0000"/>
<path d="M1083.6,1299.1L1088.8,1308.0L1078.3,1308.0Z" fill="#ff0000"/>
<path d="M1109.1,1299.8L1114.4,1308.7L1103.9,1308.7Z" fill="#ff0000"/>
<path d="M1134.7,1296.6L1139.9,1305.5L1129.4,1305.5Z" fill="#ff0000"/>
<path d="M1160.2,1322.5L1165.5,1331.4L1155.0,1331.4Z" fill="#ff0000"/>
<path d="M1185.8,1298.7L1191.0,1307.6L1180.5,1307.6Z" fill="#ff0000"/>
<path d="M1211.3,1325.3L1216.6,1334.2L1206.1,1334.2Z" fill="#ff0000"/>
<path d="M1236.9,1305.8L1242.1,1314.7L1231.6,1314.7Z" fill="#ff0000"/>
<path d="M1262.4,1299.8L1267.7,1308.7L1257.2,1308.7Z" fill="#ff0000"/>
<path d="M1288.0,1331.1L1293.2,1340.0L1282.7,1340.0Z" fill="#ff0000"/>
<polyline points="802.5,1413.2 828.1,1383.6 853.6,1367.6 879.2,1389.8 904.7,1389.8 930.2,1411.8 955.8,1399.5 981.4,1394.3 1006.9,1406.6 1032.5,1419.5 1058.0,1434.7 1083.6,1426.7 1109.1,1427.1 1134.7,1423.9 1160.2,1446.1 1185.8,1459.1 1211.3,1432.5 1236.9,1423.9 1262.4,1425.0 1288.0,1444.4" fill="none" stroke="#0000ff" stroke-width="2.6" stroke-linejoin="round"/>
<circle cx="802.5" cy="1413.2" r="5.0" fill="#0000ff"/>
<circle cx="828.1" cy="1383.6" r="5.0" fill="#0000ff"/>
<circle cx="853.6" cy="1367.6" r="5.0" fill="#0000ff"/>
<circle cx="879.2" cy="1389.8" r="5.0" fill="#0000ff"/>
<circle cx="904.7" cy="1389.8" r="5.0" fill="#0000ff"/>
<circle cx="930.2" cy="1411.8" r="5.0" fill="#0000ff"/>
<circle cx="955.8" cy="1399.5" r="5.0" fill="#0000ff"/>
<circle cx="981.4" cy="1394.3" r="5.0" fill="#0000ff"/>
<circle cx="1006.9" cy="1406.6" r="5.0" fill="#0000ff"/>
<circle cx="1032.5" cy="1419.5" r="5.0" fill="#0000ff"/>
<circle cx="1058.0" cy="1434.7" r="5.0" fill="#0000ff"/>
<circle cx="1083.6" cy="1426.7" r="5.0" fill="#0000ff"/>
<circle cx="1109.1" cy="1427.1" r="5.0" fill="#0000ff"/>
<circle cx="1134.7" cy="1423.9" r="5.0" fill="#0000ff"/>
<circle cx="1160.2" cy="1446.1" r="5.0" fill="#0000ff"/>
<circle cx="1185.8" cy="1459.1" r="5.0" fill="#0000ff"/>
<circle cx="1211.3" cy="1432.5" r="5.0" fill="#0000ff"/>
<circle cx="1236.9" cy="1423.9" r="5.0" fill="#0000ff"/>
<circle cx="1262.4" cy="1425.0" r="5.0" fill="#0000ff"/>
<circle cx="1288.0" cy="1444.4" r="5.0" fill="#0000ff"/>
<rect x="777.4" y="1088.2" width="523.0" height="389.6" fill="none" stroke="#2a2a2a" stroke-width="1.7"/>
<line x1="777.4" y1="1098.1" x2="783.9" y2="1098.1" stroke="#2a2a2a" stroke-width="1.5"/>
<text x="0" y="0" transform="translate(768.8,1102.3) scale(0.91,1)" font-size="16.4" text-anchor="end">0.33</text>
<line x1="777.4" y1="1131.1" x2="783.9" y2="1131.1" stroke="#2a2a2a" stroke-width="1.5"/>
<text x="0" y="0" transform="translate(768.8,1135.3) scale(0.91,1)" font-size="16.4" text-anchor="end">0.00</text>
<line x1="777.4" y1="1164.1" x2="783.9" y2="1164.1" stroke="#2a2a2a" stroke-width="1.5"/>
<text x="0" y="0" transform="translate(768.8,1168.3) scale(0.91,1)" font-size="16.4" text-anchor="end">-0.33</text>
<line x1="777.4" y1="1197.1" x2="783.9" y2="1197.1" stroke="#2a2a2a" stroke-width="1.5"/>
<text x="0" y="0" transform="translate(768.8,1201.3) scale(0.91,1)" font-size="16.4" text-anchor="end">-0.66</text>
<line x1="777.4" y1="1226.2" x2="783.9" y2="1226.2" stroke="#2a2a2a" stroke-width="1.5"/>
<text x="0" y="0" transform="translate(768.8,1230.4) scale(0.91,1)" font-size="16.4" text-anchor="end">0.42</text>
<line x1="777.4" y1="1258.5" x2="783.9" y2="1258.5" stroke="#2a2a2a" stroke-width="1.5"/>
<text x="0" y="0" transform="translate(768.8,1262.7) scale(0.91,1)" font-size="16.4" text-anchor="end">0.21</text>
<line x1="777.4" y1="1290.2" x2="783.9" y2="1290.2" stroke="#2a2a2a" stroke-width="1.5"/>
<text x="0" y="0" transform="translate(768.8,1294.4) scale(0.91,1)" font-size="16.4" text-anchor="end">0.00</text>
<line x1="777.4" y1="1322.2" x2="783.9" y2="1322.2" stroke="#2a2a2a" stroke-width="1.5"/>
<text x="0" y="0" transform="translate(768.8,1326.4) scale(0.91,1)" font-size="16.4" text-anchor="end">-0.21</text>
<line x1="777.4" y1="1379.8" x2="783.9" y2="1379.8" stroke="#2a2a2a" stroke-width="1.5"/>
<text x="0" y="0" transform="translate(768.8,1384.0) scale(0.91,1)" font-size="16.4" text-anchor="end">0.28</text>
<line x1="777.4" y1="1412.8" x2="783.9" y2="1412.8" stroke="#2a2a2a" stroke-width="1.5"/>
<text x="0" y="0" transform="translate(768.8,1417.0) scale(0.91,1)" font-size="16.4" text-anchor="end">0.00</text>
<line x1="777.4" y1="1446.7" x2="783.9" y2="1446.7" stroke="#2a2a2a" stroke-width="1.5"/>
<text x="0" y="0" transform="translate(768.8,1450.9) scale(0.91,1)" font-size="16.4" text-anchor="end">-0.28</text>
<line x1="777.4" y1="1114.9" x2="780.9" y2="1114.9" stroke="#2a2a2a" stroke-width="1.5"/>
<line x1="777.4" y1="1147.7" x2="780.9" y2="1147.7" stroke="#2a2a2a" stroke-width="1.5"/>
<line x1="777.4" y1="1181.0" x2="780.9" y2="1181.0" stroke="#2a2a2a" stroke-width="1.5"/>
<line x1="777.4" y1="1213.5" x2="780.9" y2="1213.5" stroke="#2a2a2a" stroke-width="1.5"/>
<line x1="777.4" y1="1242.5" x2="780.9" y2="1242.5" stroke="#2a2a2a" stroke-width="1.5"/>
<line x1="777.4" y1="1274.6" x2="780.9" y2="1274.6" stroke="#2a2a2a" stroke-width="1.5"/>
<line x1="777.4" y1="1306.0" x2="780.9" y2="1306.0" stroke="#2a2a2a" stroke-width="1.5"/>
<line x1="777.4" y1="1339.0" x2="780.9" y2="1339.0" stroke="#2a2a2a" stroke-width="1.5"/>
<line x1="777.4" y1="1363.8" x2="780.9" y2="1363.8" stroke="#2a2a2a" stroke-width="1.5"/>
<line x1="777.4" y1="1396.5" x2="780.9" y2="1396.5" stroke="#2a2a2a" stroke-width="1.5"/>
<line x1="777.4" y1="1429.6" x2="780.9" y2="1429.6" stroke="#2a2a2a" stroke-width="1.5"/>
<line x1="777.4" y1="1462.9" x2="780.9" y2="1462.9" stroke="#2a2a2a" stroke-width="1.5"/>
<text x="0" y="0" transform="translate(777.0,1498.0) scale(0.91,1)" font-size="16.2" text-anchor="middle">0</text>
<line x1="840.8" y1="1477.8" x2="840.8" y2="1474.3" stroke="#2a2a2a" stroke-width="1.5"/>
<line x1="904.7" y1="1477.8" x2="904.7" y2="1471.3" stroke="#2a2a2a" stroke-width="1.5"/>
<text x="0" y="0" transform="translate(904.7,1498.0) scale(0.91,1)" font-size="16.2" text-anchor="middle">5</text>
<line x1="968.6" y1="1477.8" x2="968.6" y2="1474.3" stroke="#2a2a2a" stroke-width="1.5"/>
<line x1="1032.5" y1="1477.8" x2="1032.5" y2="1471.3" stroke="#2a2a2a" stroke-width="1.5"/>
<text x="0" y="0" transform="translate(1032.5,1498.0) scale(0.91,1)" font-size="16.2" text-anchor="middle">10</text>
<line x1="1096.3" y1="1477.8" x2="1096.3" y2="1474.3" stroke="#2a2a2a" stroke-width="1.5"/>
<line x1="1160.2" y1="1477.8" x2="1160.2" y2="1471.3" stroke="#2a2a2a" stroke-width="1.5"/>
<text x="0" y="0" transform="translate(1160.2,1498.0) scale(0.91,1)" font-size="16.2" text-anchor="middle">15</text>
<line x1="1224.1" y1="1477.8" x2="1224.1" y2="1474.3" stroke="#2a2a2a" stroke-width="1.5"/>
<line x1="1288.0" y1="1477.8" x2="1288.0" y2="1471.3" stroke="#2a2a2a" stroke-width="1.5"/>
<text x="0" y="0" transform="translate(1288.0,1498.0) scale(0.91,1)" font-size="16.2" text-anchor="middle">20</text>
<text transform="translate(975.45,1516.76) scale(0.1898,0.1922)" font-size="100" fill="#000" >Cycle Times (d)</text>
<text transform="translate(723.38,1204.53) rotate(-90) scale(0.1901,0.1722)" font-size="100">Mass Lost(%)</text>
<text transform="translate(723.38,1333.93) rotate(-90) scale(0.1901,0.1722)" font-size="100">Mass Lost(%)</text>
<text transform="translate(723.38,1463.83) rotate(-90) scale(0.1901,0.1722)" font-size="100">Mass Lost(%)</text>
<line x1="1253.7" y1="1094.7" x2="1281.8" y2="1094.7" stroke="#0000ff" stroke-width="2.1"/>
<circle cx="1267.0" cy="1094.7" r="4.6" fill="#0000ff"/>
<text x="0" y="0" transform="translate(1283.0,1098.5) scale(0.95,1)" font-size="11.5">V1</text>
<line x1="1253.7" y1="1109.6" x2="1281.8" y2="1109.6" stroke="#ff0000" stroke-width="2.1"/>
<path d="M1267.0,1104.1L1271.8,1112.3L1262.2,1112.3Z" fill="#ff0000"/>
<text x="0" y="0" transform="translate(1283.0,1113.4) scale(0.95,1)" font-size="11.5">V2</text>
<line x1="1253.7" y1="1125.0" x2="1281.8" y2="1125.0" stroke="#000000" stroke-width="2.1"/>
<rect x="1262.4" y="1120.4" width="9.2" height="9.2" fill="#000000"/>
<text x="0" y="0" transform="translate(1283.0,1128.8) scale(0.95,1)" font-size="11.5">V3</text></g>
</svg></body></html>
